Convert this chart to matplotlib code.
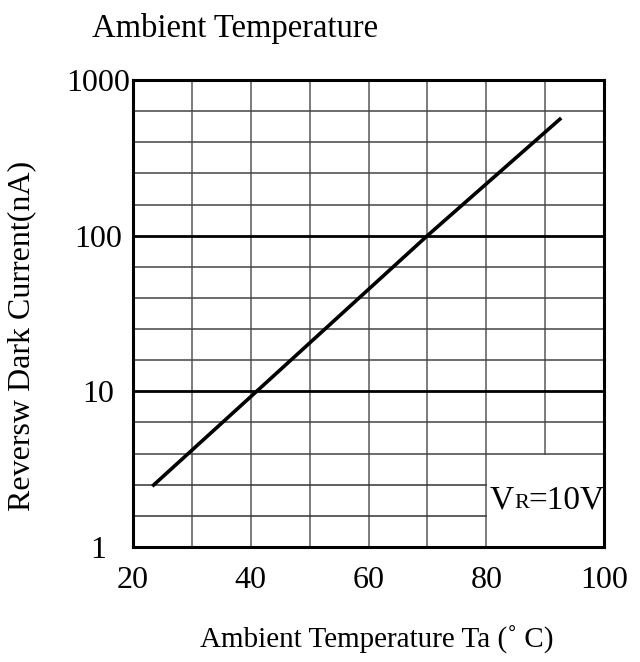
import numpy as np
import matplotlib
matplotlib.use("Agg")
import matplotlib.pyplot as plt

# data
temp = [23.5, 41, 70, 92.5]
dark_current = [2.5, 10, 100, 560]
x_ticks = [20, 40, 60, 80, 100]
y_ticks = [1, 10, 100, 1000]
y_tick_labels = ["1", "10", "100", "1000"]

plt.rcParams['font.family'] = ['Liberation Serif', 'DejaVu Serif']

fig = plt.figure(figsize=(6.4, 6.62), dpi=100)
ax = fig.add_axes([133/640, 1-547/662, (604-133)/640, (547-80)/662])
ax.set_yscale('log')
ax.set_xlim(20, 100)
ax.set_ylim(1, 1000)

# grid: vertical lines every 10 degC
for xv in range(30, 100, 10):
    ymin = 10**0.6 if xv == 90 else 1
    ax.plot([xv, xv], [ymin, 1000], color='#666666', lw=1.2, zorder=1)

# horizontal lines, 5 per decade, evenly spaced
for k in range(1, 15):
    yv = 10 ** (k / 5)
    if k % 5 == 0:
        ax.plot([20, 100], [yv, yv], color='black', lw=2.0, zorder=1)
    elif k < 3:
        ax.plot([20, 80], [yv, yv], color='#333333', lw=1.1, zorder=1)
    else:
        ax.plot([20, 100], [yv, yv], color='#444444', lw=1.1, zorder=1)

ax.plot(temp, dark_current, color='black', lw=2.6, zorder=3)

for s in ax.spines.values():
    s.set_linewidth(2.2)
    s.set_zorder(4)

ax.set_xticks(x_ticks)
ax.set_xticklabels([str(v) for v in x_ticks])
ax.set_yticks(y_ticks)
ax.set_yticklabels(y_tick_labels)
ax.yaxis.set_minor_locator(matplotlib.ticker.NullLocator())
ax.tick_params(axis='both', length=0, labelsize=23)
ax.tick_params(axis='y', pad=25)
ax.tick_params(axis='x', pad=14)
for lab in ax.get_yticklabels():
    lab.set_horizontalalignment('center')

ax.set_xlabel("Ambient Temperature Ta (˚ C)", fontsize=21)
ax.xaxis.set_label_coords(0.517, -0.199)
ax.xaxis.label.set_verticalalignment('center')
ax.set_ylabel("Reversw Dark Current(nA)", fontsize=23)
ax.yaxis.set_label_coords(-0.236, 0.452)
ax.yaxis.label.set_verticalalignment('center')

fig.text(92/640, 1-28/662, "Ambient Temperature", fontsize=23.5, ha='left', va='center')

# V_R=10V label, R set smaller on the same baseline
fig.canvas.draw()
r = fig.canvas.get_renderer()
t1 = ax.text(80.6, 10**0.25, "V", fontsize=24, ha='left', va='baseline')
ext = t1.get_window_extent(r)
inv = ax.transData.inverted()
x2 = inv.transform((ext.x1, ext.y0))[0]
t2 = ax.text(x2, 10**0.25, "R", fontsize=16, ha='left', va='baseline')
ext2 = t2.get_window_extent(r)
x3 = inv.transform((ext2.x1, ext2.y0))[0]
ax.text(x3, 10**0.25, "=10V", fontsize=24, ha='left', va='baseline')

fig.savefig("out.png", dpi=100)
